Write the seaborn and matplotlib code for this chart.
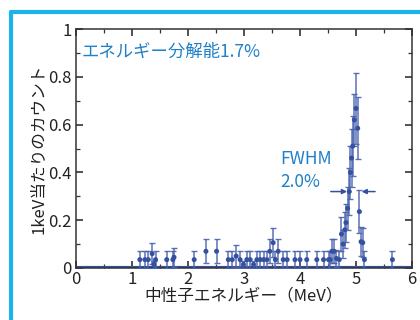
import matplotlib
matplotlib.use("Agg")
import matplotlib.pyplot as plt
from matplotlib.ticker import MultipleLocator
import pandas as pd
import seaborn as sns

# measured spectrum points (MeV, counts per keV, error)
energy = [1.14, 1.23, 1.29, 1.36, 1.39, 1.42, 1.62, 1.73, 1.75, 2.11, 2.32, 2.51,
          2.72, 2.79, 2.86, 2.93, 2.99, 3.05, 3.11, 3.17, 3.23, 3.29, 3.35, 3.41,
          3.46, 3.52, 3.56, 3.61, 3.70, 3.77, 3.91, 4.00, 4.12, 4.30, 4.42, 4.51,
          4.54, 4.57, 4.61, 4.65, 4.70, 4.74, 4.77, 4.80, 4.82, 4.85, 4.88, 4.90,
          4.92, 4.94, 4.97, 5.00, 5.03, 5.06, 5.09, 5.12, 5.15, 5.65]
counts = [0.035, 0.035, 0.035, 0.060, 0.015, 0.035, 0.035, 0.035, 0.045, 0.035, 0.070, 0.070,
          0.035, 0.035, 0.050, 0.035, 0.015, 0.035, 0.035, 0.015, 0.035, 0.035, 0.035, 0.035,
          0.070, 0.106, 0.035, 0.070, 0.035, 0.035, 0.035, 0.035, 0.035, 0.035, 0.035, 0.035,
          0.035, 0.070, 0.070, 0.040, 0.035, 0.142, 0.100, 0.160, 0.190, 0.250, 0.320, 0.400,
          0.460, 0.510, 0.620, 0.668, 0.585, 0.236, 0.110, 0.106, 0.035, 0.035]
errors = [0.035, 0.035, 0.035, 0.045, 0.015, 0.035, 0.035, 0.035, 0.040, 0.035, 0.050, 0.050,
          0.035, 0.035, 0.045, 0.035, 0.015, 0.035, 0.035, 0.015, 0.035, 0.035, 0.035, 0.035,
          0.050, 0.060, 0.035, 0.050, 0.035, 0.035, 0.035, 0.035, 0.035, 0.035, 0.035, 0.035,
          0.035, 0.050, 0.050, 0.035, 0.035, 0.070, 0.060, 0.075, 0.080, 0.090, 0.100, 0.110,
          0.120, 0.125, 0.110, 0.150, 0.130, 0.090, 0.060, 0.060, 0.035, 0.035]

x_ticks = [0, 1, 2, 3, 4, 5, 6]
y_ticks = [0, 0.2, 0.4, 0.6, 0.8, 1]
y_tick_labels = ["0", "0.2", "0.4", "0.6", "0.8", "1"]

df = pd.DataFrame({"energy": energy, "counts": counts, "err": errors})

sns.set_style("ticks")
plt.rcParams["font.family"] = ["Noto Sans CJK JP", "DejaVu Sans"]

dot = "#34509f"
bar = "#4a62ae"
txt = "#1f80c8"

fig = plt.figure(figsize=(4.2, 3.2), dpi=100)
ax = fig.add_axes([0.181, 0.1625, 0.8, 0.7465])

# zero-count bins form the thick baseline
ax.axhline(0, color=dot, lw=3, zorder=2)
ax.errorbar(df["energy"], df["counts"], yerr=df["err"], fmt="none",
            ecolor=bar, elinewidth=1.1, capsize=2.5, capthick=1.0, alpha=0.9, zorder=3)
sns.scatterplot(data=df, x="energy", y="counts", ax=ax, color=dot, s=13,
                edgecolor="none", zorder=4, legend=False)

# FWHM markers
half = 0.32
ax.annotate("", xy=(4.89, half), xytext=(4.5, half),
            arrowprops=dict(arrowstyle="-|>", color=dot, lw=1.1, mutation_scale=7))
ax.annotate("", xy=(5.05, half), xytext=(5.39, half),
            arrowprops=dict(arrowstyle="-|>", color=dot, lw=1.1, mutation_scale=7))

ax.text(0.1, 0.905, "エネルギー分解能1.7%", color=txt, fontsize=12.5, va="center", ha="left")
ax.text(3.64, 0.455, "FWHM", color=txt, fontsize=12.5, va="center", ha="left")
ax.text(3.64, 0.36, "2.0%", color=txt, fontsize=12.5, va="center", ha="left")

ax.set_xlim(0, 6)
ax.set_ylim(0, 1)
ax.set_xticks(x_ticks)
ax.set_xticklabels([str(t) for t in x_ticks])
ax.set_yticks(y_ticks)
ax.set_yticklabels(y_tick_labels)
ax.xaxis.set_minor_locator(MultipleLocator(0.5))
ax.yaxis.set_minor_locator(MultipleLocator(0.1))
ax.tick_params(which="both", direction="in", top=True, right=True, color="#333333")
ax.tick_params(which="major", length=5, width=1.1, labelsize=12, colors="#222222")
ax.tick_params(which="minor", length=3, width=0.9)
ax.tick_params(axis="x", pad=2)
ax.tick_params(axis="y", pad=3)
for s in ax.spines.values():
    s.set_color("#333333")
    s.set_linewidth(1.1)

ax.set_xlabel("中性子エネルギー（MeV）", fontsize=12, color="#222222", labelpad=0)
ax.set_ylabel("1keV当たりのカウント", fontsize=12, color="#222222", labelpad=1)

# cyan frame around the figure
fig.add_artist(plt.Line2D([11 / 420, 11 / 420], [0, 1 - 12 / 320], color="#1ab4ea", lw=3,
                          transform=fig.transFigure))
fig.add_artist(plt.Line2D([11 / 420, 1], [1 - 12 / 320, 1 - 12 / 320], color="#1ab4ea", lw=3,
                          transform=fig.transFigure))

fig.savefig("out.png", dpi=100)
